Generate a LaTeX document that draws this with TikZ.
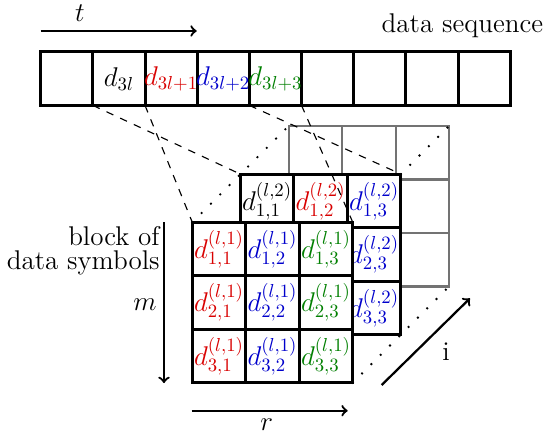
\documentclass[tikz,border=0pt]{standalone}
\usetikzlibrary{positioning}

\colorlet{cred}{red!85!black}
\colorlet{cblue}{blue!80!black}
\colorlet{cgreen}{green!50!black}

\tikzset{
  cell/.style={draw,line width=1.6pt,fill=white,minimum width=1cm,
    minimum height=1cm,inner sep=0pt,outer sep=0pt,anchor=north west},
  backcell/.style={cell,draw=black!55,line width=1.1pt},
  seqcell/.style={cell,minimum width=0.975cm},
  guide/.style={dash pattern=on 4pt off 4pt,line width=0.6pt},
  corner/.style={line width=1.4pt,line cap=round,dash pattern=on 0pt off 7pt},
  arr/.style={->,line width=1.2pt}
}

\begin{document}
\begin{tikzpicture}[font=\Large]
  \useasboundingbox (0,0) rectangle (10.187,-8.243);

  \coordinate (front) at (3.594,-4.155);
  \coordinate (mid) at (4.494,-3.255);
  \coordinate (back) at (5.394,-2.355);

  % data sequence
  \foreach \i in {0,...,8}
    \node [seqcell] (s\i) at ({0.761+0.975*\i},-0.97) {};
  \node (st1) at (s1) {$d_{3l}$};
  \node [text=cred] (st2) at (s2) {$d_{3l+1}$};
  \node [text=cblue] (st3) at (s3) {$d_{3l+2}$};
  \node [text=cgreen] (st4) at (s4) {$d_{3l+3}$};

  \node [anchor=base east,inner sep=0pt] (seqlab) at (10.16,-0.611) {data sequence};

  \coordinate (t0) at (0.761,-0.579);
  \coordinate (t1) at (3.677,-0.579);
  \draw [arr] (t0) -- (t1);
  \node (tlab) at (1.495,-0.243) {$t$};

  % blocks, back to front
  \foreach \r in {1,2,3}
    \foreach \c in {1,2,3}
      \node [backcell] (g\r\c) at ([shift={(\c-1,1-\r)}]back) {};

  \foreach \r in {1,2,3}
    \foreach \c in {1,2,3}
      \node [cell] (m\r\c) at ([shift={(\c-1,1-\r)}]mid) {};
  \foreach \r/\c/\col in {1/1/black,1/2/cred,1/3/cblue,2/3/cblue,3/3/cblue}
    \node [text=\col] (mt\r\c) at (m\r\c) {$d^{(l,2)}_{\r,\c}$};

  \foreach \r in {1,2,3}
    \foreach \c/\col in {1/cred,2/cblue,3/cgreen}
      \node [cell,text=\col] (f\r\c) at ([shift={(\c-1,1-\r)}]front)
        {$d^{(l,1)}_{\r,\c}$};

  % corners
  \draw [corner] (f11.north west) -- (m11.north west) -- (g11.north west);
  \draw [corner] (m13.north east) -- (g13.north east);
  \draw [corner] (f33.south east) -- (m33.south east) -- (g33.south east);

  % mapping of the sequence
  \draw [guide] (s1.south west) -- (m11.north west);
  \draw [guide] (s1.south east) -- (f11.north west);
  \draw [guide] (s4.south west) -- (m13.north east);
  \draw [guide] (s4.south east) -- (f13.north east);

  % axes
  \node [align=right,anchor=east,inner sep=0pt,
    font=\fontsize{14.4}{13}\selectfont] (blocklab) at (2.99,-4.69)
    {block of\\data symbols};

  \coordinate (m0) at (3.065,-4.15);
  \coordinate (m1) at (3.065,-7.16);
  \draw [arr] (m0) -- (m1);
  \node (mlab) at (2.71,-5.70) {$m$};

  \coordinate (r0) at (3.583,-7.677);
  \coordinate (r1) at (6.5,-7.677);
  \draw [arr] (r0) -- (r1);
  \node (rlab) at (4.985,-7.944) {$r$};

  \coordinate (i0) at (7.135,-7.196);
  \coordinate (i1) at (8.785,-5.576);
  \draw [arr] (i0) -- (i1);
  \node (ilab) at (8.336,-6.58) {i};
\end{tikzpicture}
\end{document}
